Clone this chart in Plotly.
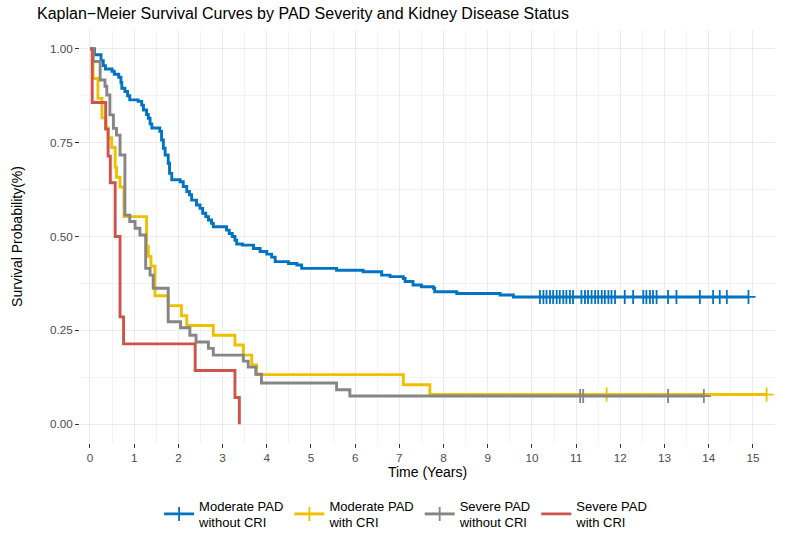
import plotly.graph_objects as go

# ---------------- data ----------------
groups = ["Moderate PAD<br>without CRI", "Moderate PAD<br>with CRI",
          "Severe PAD<br>without CRI", "Severe PAD<br>with CRI"]
colors = ["#0073C2", "#EFC000", "#868686", "#CD534C"]

# Moderate PAD without CRI: step times and survival after each step
blue_t = [0, 0.10, 0.25, 0.30, 0.35, 0.50, 0.55, 0.65, 0.70, 0.72, 0.79, 0.85, 0.90,
          1.09, 1.17, 1.21, 1.28, 1.32, 1.36, 1.40, 1.58, 1.62, 1.66, 1.70, 1.77, 1.80,
          1.85, 2.04, 2.11, 2.19, 2.25, 2.30, 2.41, 2.49, 2.55, 2.62, 2.68, 2.75, 2.79,
          3.09, 3.15, 3.22, 3.28, 3.32, 3.45, 3.70, 3.85, 4.00, 4.11, 4.19, 4.49, 4.68,
          4.79, 5.58, 6.18, 6.60, 6.79, 7.09, 7.13, 7.31, 7.50, 7.77, 7.80, 8.30, 9.28,
          9.58, 14.90]
blue_s = [1.0, 0.984, 0.968, 0.955, 0.946, 0.940, 0.932, 0.924, 0.910, 0.895, 0.886,
          0.875, 0.864, 0.860, 0.850, 0.837, 0.825, 0.815, 0.800, 0.789, 0.780, 0.757,
          0.735, 0.717, 0.695, 0.668, 0.651, 0.646, 0.633, 0.620, 0.611, 0.597, 0.584,
          0.575, 0.562, 0.553, 0.544, 0.535, 0.526, 0.517, 0.508, 0.500, 0.490, 0.480,
          0.477, 0.468, 0.460, 0.453, 0.445, 0.433, 0.428, 0.424, 0.415, 0.410, 0.406,
          0.397, 0.393, 0.388, 0.380, 0.371, 0.366, 0.362, 0.353, 0.348, 0.344, 0.339,
          0.339]
blue_cens = [10.18, 10.26, 10.33, 10.41, 10.48, 10.56, 10.63, 10.71, 10.78, 10.86, 10.93,
             11.12, 11.20, 11.27, 11.35, 11.43, 11.50, 11.58, 11.65, 11.73, 11.80, 11.88,
             12.10, 12.29, 12.52, 12.59, 12.67, 12.74, 12.82, 13.08, 13.27, 13.80, 14.10,
             14.25, 14.41, 14.90]

# Moderate PAD with CRI
yel_t = [0, 0.07, 0.18, 0.27, 0.36, 0.41, 0.49, 0.57, 0.60, 0.68, 0.77, 1.28, 1.32,
         1.38, 1.47, 1.77, 2.07, 2.19, 2.79, 3.28, 3.47, 3.66, 3.77, 7.09, 7.69, 15.31]
yel_s = [1.0, 0.921, 0.868, 0.816, 0.789, 0.763, 0.737, 0.684, 0.658, 0.632, 0.553,
         0.474, 0.447, 0.421, 0.342, 0.316, 0.289, 0.263, 0.237, 0.211, 0.184, 0.158,
         0.132, 0.105, 0.079, 0.079]
yel_cens = [11.69, 15.31]

# Severe PAD without CRI
gry_t = [0, 0.07, 0.23, 0.34, 0.38, 0.45, 0.53, 0.60, 0.68, 0.79, 0.90, 1.02, 1.13,
         1.26, 1.36, 1.43, 1.77, 2.05, 2.26, 2.40, 2.68, 2.79, 3.47, 3.58, 3.75, 3.88,
         5.58, 5.88, 13.89]
gry_s = [1.0, 0.966, 0.917, 0.900, 0.877, 0.824, 0.788, 0.770, 0.717, 0.557, 0.540,
         0.522, 0.504, 0.415, 0.397, 0.362, 0.273, 0.257, 0.237, 0.219, 0.202, 0.184,
         0.168, 0.152, 0.133, 0.110, 0.092, 0.075, 0.075]
gry_cens = [11.09, 11.16, 13.08, 13.89]

# Severe PAD with CRI
red_t = [0, 0.05, 0.355, 0.41, 0.46, 0.57, 0.68, 0.76, 2.38, 3.28, 3.38]
red_s = [1.0, 0.857, 0.786, 0.714, 0.643, 0.500, 0.286, 0.214, 0.143, 0.071, 0.0]
red_cens = []

x_ticks = list(range(0, 16))
y_ticks = [0.0, 0.25, 0.5, 0.75, 1.0]
y_ticklabels = ["0.00", "0.25", "0.50", "0.75", "1.00"]

# ---------------- figure ----------------
FONT = "Liberation Sans, Arial, Helvetica, sans-serif"
series = [(blue_t, blue_s, blue_cens), (yel_t, yel_s, yel_cens),
          (gry_t, gry_s, gry_cens), (red_t, red_s, red_cens)]

fig = go.Figure()
for (t, s, cens), name, col in zip(series, groups, colors):
    fig.add_trace(go.Scatter(x=t, y=s, mode="lines", line=dict(color=col, width=2.9, shape="hv"),
                             showlegend=False, legendgroup=name, hoverinfo="skip"))
    if cens:
        last = s[-1]
        fig.add_trace(go.Scatter(x=cens, y=[last] * len(cens), mode="markers",
                                 marker=dict(symbol="cross-thin", size=10, color=col,
                                             line=dict(color=col, width=1.8)),
                                 showlegend=False, legendgroup=name, hoverinfo="skip"))

# legend keys
for (t, s, cens), name, col in zip(series, groups, colors):
    fig.add_trace(go.Scatter(x=[None], y=[None], name=name, legendgroup=name,
                             mode="lines+markers" if cens else "lines",
                             line=dict(color=col, width=2.9),
                             marker=dict(symbol="cross-thin", size=10, color=col,
                                         line=dict(color=col, width=1.8))))

grid_major = "#EBEBEB"
grid_minor = "#F3F3F3"
fig.update_layout(
    width=787, height=536,
    margin=dict(l=80, r=12, t=30, b=93, autoexpand=False),
    paper_bgcolor="white", plot_bgcolor="white",
    font=dict(family=FONT, color="#000000"),
    title=dict(text="Kaplan\u2212Meier Survival Curves by PAD Severity and Kidney Disease Status",
               x=37 / 787, xref="container", xanchor="left",
               y=1 - 13 / 536, yref="container", yanchor="middle",
               font=dict(size=16, color="#000000", family=FONT)),
    xaxis=dict(range=[-0.226, 15.5], tickmode="array", tickvals=x_ticks,
               ticktext=[str(v) for v in x_ticks],
               showgrid=True, gridcolor=grid_major, gridwidth=1,
               minor=dict(tick0=0, dtick=0.5, showgrid=True, gridcolor=grid_minor, gridwidth=1),
               zeroline=False, showline=False,
               ticks="outside", ticklen=4, tickcolor="#333333", tickwidth=1.3,
               tickfont=dict(size=11.7, color="#4D4D4D"),
               title=dict(text="Time (Years)", font=dict(size=14, color="#000000"), standoff=0)),
    yaxis=dict(range=[-0.05, 1.05], tickmode="array", tickvals=y_ticks,
               ticktext=y_ticklabels,
               showgrid=True, gridcolor=grid_major, gridwidth=1,
               minor=dict(tick0=0, dtick=0.125, showgrid=True, gridcolor=grid_minor, gridwidth=1),
               zeroline=False, showline=False,
               ticks="outside", ticklen=4, tickcolor="#333333", tickwidth=1.3,
               tickfont=dict(size=11.7, color="#4D4D4D"),
               title=dict(text="Survival Probability(%)", font=dict(size=14, color="#000000"),
                          standoff=24)),
    legend=dict(orientation="h", x=0.516, xref="container", xanchor="center",
                y=22 / 536, yref="container", yanchor="middle",
                font=dict(size=13, color="#000000"), itemwidth=30,
                bgcolor="rgba(0,0,0,0)"),
)

fig.write_html("out.html")
